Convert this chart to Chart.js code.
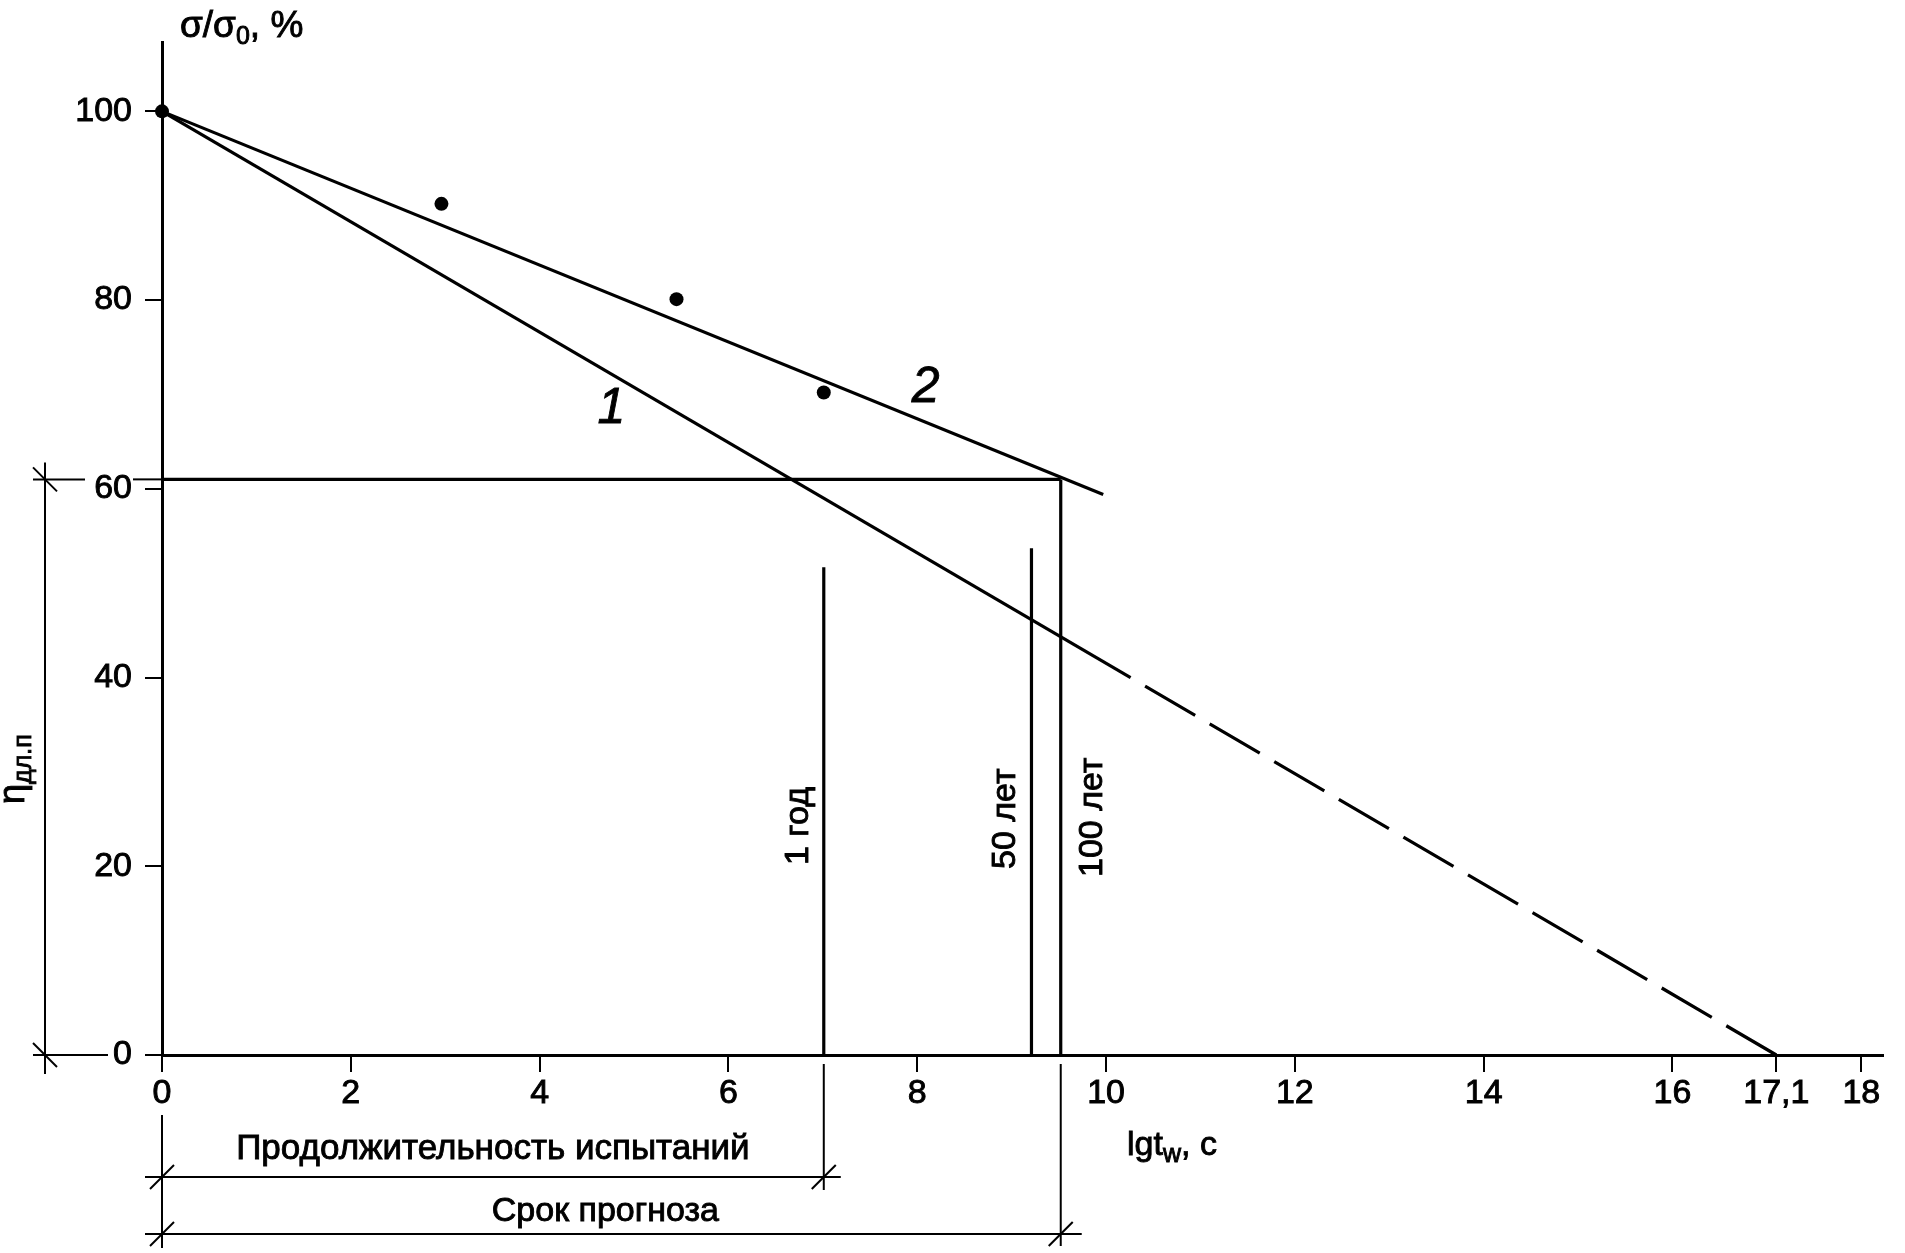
<!DOCTYPE html>
<html lang="ru">
<head>
<meta charset="utf-8">
<title>σ/σ0 от lgtw</title>
<script src="https://cdn.jsdelivr.net/npm/chart.js@4.4.1/dist/chart.umd.min.js"></script>
<style>
  html, body { margin: 0; padding: 0; background: #fff; }
  #grafico { display: block; }
</style>
</head>
<body>
<canvas id="grafico" width="1905" height="1253"></canvas>
<script>
// опытные точки
const tochkiX = [0, 2.96, 5.45, 7.01];
const tochkiY = [100, 90.2, 80.1, 70.2];

// прямая 2 (по точкам)
const liniya2X = [0, 9.97];
const liniya2Y = [100, 59.4];

// прямая 1: сплошная часть и пунктир до 17,1
const liniya1X = [0, 10.26];
const liniya1Y = [100, 40.0];
const prognozX = [10.26, 17.1];
const prognozY = [40.0, 0];

// уровень 61 %
const urovenX = [0, 9.52];
const urovenY = 61;

// сроки: 1 год, 50 лет, 100 лет
const srokiX = [7.01, 9.21, 9.52];
const srokiVerh = [51.7, 53.7, 61];
const srokiNazv = ['1 год', '50 лет', '100 лет'];

// размерные линии
const ispytaniyaX = [0, 7.01];
const prognozSrokX = [0, 9.52];
const etaY = [0, 61];

const xTicks = [0, 2, 4, 6, 8, 10, 12, 14, 16, 17.1, 18];
const yTicks = [0, 20, 40, 60, 80, 100];
const xMax = 18.23;
const yMax = 107.35;

const shrift = '"Liberation Sans", Arial, sans-serif';
const f = (size, style = '') => `${style} ${size}px ${shrift}`;

function liniya(xs, ys, extra = {}) {
  return {
    data: xs.map((v, i) => ({ x: v, y: ys[i] })),
    showLine: true,
    borderColor: '#000',
    borderWidth: 3.2,
    pointRadius: 0,
    ...extra
  };
}

// подписи и размерные линии
const razmetka = {
  id: 'razmetka',
  afterDraw(chart) {
    const { ctx, scales: { x, y } } = chart;
    const px = v => x.getPixelForValue(v);
    const py = v => y.getPixelForValue(v);
    const seg = (x1, y1, x2, y2) => {
      ctx.beginPath(); ctx.moveTo(x1, y1); ctx.lineTo(x2, y2); ctx.stroke();
    };
    const kosaya = (cx, cy, d) => seg(cx - 12, cy - 12 * d, cx + 12, cy + 12 * d);
    const tekst = (t, tx, ty) => {
      const w = ctx.lineWidth;
      ctx.lineWidth = 0.9;
      ctx.fillText(t, tx, ty);
      ctx.strokeText(t, tx, ty);
      ctx.lineWidth = w;
    };

    ctx.save();
    ctx.strokeStyle = '#000';
    ctx.fillStyle = '#000';
    ctx.lineWidth = 2;

    // слева: ηдл.п
    const lx = px(0) - 117;
    const yT = py(etaY[1]), yB = py(etaY[0]);
    seg(lx, yT - 17, lx, yB + 19);
    seg(lx - 12, yT, px(0) - 77, yT);
    seg(px(0) - 29, yT, px(0), yT);
    seg(lx - 12, yB, px(0) - 54, yB);
    kosaya(lx, yT, 1);
    kosaya(lx, yB, 1);

    // снизу
    const d1 = py(0) + 122, d2 = py(0) + 179;
    seg(px(ispytaniyaX[0]) - 17, d1, px(ispytaniyaX[1]) + 17, d1);
    seg(px(prognozSrokX[0]) - 17, d2, px(prognozSrokX[1]) + 21, d2);
    seg(px(0), py(0) + 60, px(0), d2 + 14);
    seg(px(ispytaniyaX[1]), py(0) + 9, px(ispytaniyaX[1]), d1 + 13);
    seg(px(prognozSrokX[1]), py(0) + 9, px(prognozSrokX[1]), d2 + 12);
    kosaya(px(ispytaniyaX[0]), d1, -1);
    kosaya(px(ispytaniyaX[1]), d1, -1);
    kosaya(px(prognozSrokX[0]), d2, -1);
    kosaya(px(prognozSrokX[1]), d2, -1);

    ctx.textBaseline = 'alphabetic';
    ctx.textAlign = 'center';
    ctx.font = f(35);
    tekst('Продолжительность испытаний', (px(ispytaniyaX[0]) + px(ispytaniyaX[1])) / 2, d1 - 18);
    ctx.font = f(34);
    tekst('Срок прогноза', (px(prognozSrokX[0]) + px(prognozSrokX[1])) / 2 - 6, d2 - 13);

    // текст с индексом
    const sIndeksom = (parts, x0, y0, big) => {
      let tx = x0;
      parts.forEach(([t, sub]) => {
        ctx.font = sub ? f(25) : f(big);
        tekst(t, tx, y0 + (sub ? 7 : 0));
        tx += ctx.measureText(t).width;
      });
    };
    const shirina = (parts, big) => parts.reduce((s, [t, sub]) => {
      ctx.font = sub ? f(25) : f(big);
      return s + ctx.measureText(t).width;
    }, 0);

    ctx.textAlign = 'left';
    sIndeksom([['σ/σ'], ['0', 1], [', %']], px(0) + 18, 37, 37);
    sIndeksom([['lgt'], ['w', 1], [', c']], px(10) + 21, py(0) + 100, 34);

    const eta = [['η'], ['дл.п', 1]];
    ctx.save();
    ctx.translate(24, py(30.3) + shirina(eta, 36) / 2);
    ctx.rotate(-Math.PI / 2);
    sIndeksom(eta, 0, 0, 36);
    ctx.restore();

    // вертикальные подписи сроков
    const sdvig = [-16, -16, 41];
    const niz = [865, 869, 877];
    ctx.font = f(34);
    srokiX.forEach((v, i) => {
      ctx.save();
      ctx.translate(px(v) + sdvig[i], niz[i]);
      ctx.rotate(-Math.PI / 2);
      tekst(srokiNazv[i], 0, 0);
      ctx.restore();
    });

    // номера прямых
    ctx.font = f(50, 'italic');
    ctx.textAlign = 'center';
    ctx.textBaseline = 'middle';
    tekst('1', px(4.76), py(68.4));
    tekst('2', px(8.09), py(70.7));
    ctx.restore();
  }
};

const osFont = { family: shrift, size: 34 };

new Chart(document.getElementById('grafico'), {
  type: 'scatter',
  data: {
    datasets: [
      {
        data: tochkiX.map((v, i) => ({ x: v, y: tochkiY[i] })),
        pointRadius: 7,
        backgroundColor: '#000',
        borderWidth: 0,
        clip: false
      },
      liniya(liniya1X, liniya1Y),
      liniya(prognozX, prognozY, { borderDash: [58, 16.8], borderDashOffset: 58 }),
      liniya(liniya2X, liniya2Y),
      liniya(urovenX, [urovenY, urovenY]),
      ...srokiX.map((v, i) => liniya([v, v], [0, srokiVerh[i]]))
    ]
  },
  options: {
    responsive: false,
    animation: false,
    devicePixelRatio: 1,
    layout: { padding: { left: 0, top: 42, right: 22, bottom: 138 } },
    plugins: { legend: { display: false }, tooltip: { enabled: false } },
    scales: {
      x: {
        type: 'linear',
        bounds: 'data',
        afterDataLimits: s => { s.min = 0; s.max = xMax; },
        afterBuildTicks: s => { s.ticks = xTicks.map(v => ({ value: v })); },
        afterFit: s => { s.height = 60; },
        grid: { drawOnChartArea: false, color: '#000', lineWidth: 2, tickLength: 17 },
        border: { color: '#000', width: 3 },
        ticks: {
          color: '#000', font: osFont, padding: 1, maxRotation: 0, autoSkip: false,
          textStrokeColor: '#000', textStrokeWidth: 0.9,
          callback: v => String(v).replace('.', ',')
        }
      },
      y: {
        type: 'linear',
        bounds: 'data',
        afterDataLimits: s => { s.min = 0; s.max = yMax; },
        afterBuildTicks: s => { s.ticks = yTicks.map(v => ({ value: v })); },
        afterFit: s => { s.width = 162; },
        grid: { drawOnChartArea: false, color: '#000', lineWidth: 2, tickLength: 17 },
        border: { color: '#000', width: 3 },
        ticks: {
          color: '#000', font: osFont, padding: 13, autoSkip: false,
          textStrokeColor: '#000', textStrokeWidth: 0.9
        }
      }
    }
  },
  plugins: [razmetka]
});
</script>
</body>
</html>
